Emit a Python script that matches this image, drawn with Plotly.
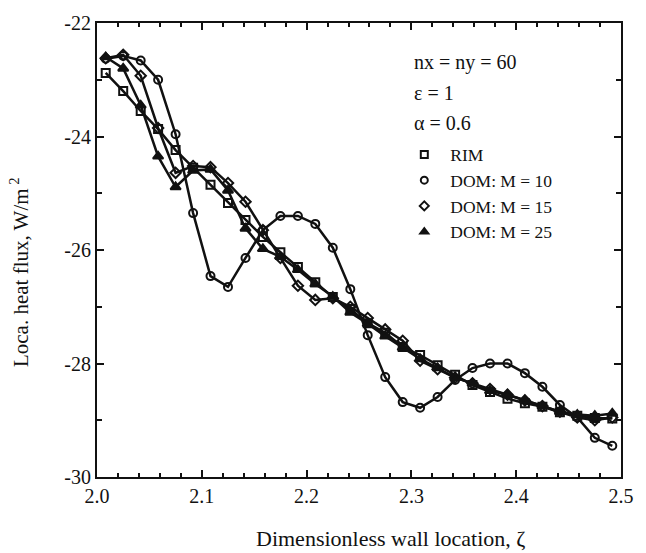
import plotly.graph_objects as go

# Dimensionless wall location (grid-cell centres, nx = 60)
ZETA = [2.0083, 2.0250, 2.0417, 2.0583, 2.0750, 2.0917, 2.1083, 2.1250, 2.1417, 2.1583,
        2.1750, 2.1917, 2.2083, 2.2250, 2.2417, 2.2583, 2.2750, 2.2917, 2.3083, 2.3250,
        2.3417, 2.3583, 2.3750, 2.3917, 2.4083, 2.4250, 2.4417, 2.4583, 2.4750, 2.4917]

RIM = [-22.88, -23.20, -23.55, -23.87, -24.24, -24.55, -24.85, -25.17, -25.47, -25.77,
       -26.04, -26.30, -26.57, -26.83, -27.04, -27.29, -27.46, -27.71, -27.85, -28.03,
       -28.20, -28.38, -28.50, -28.62, -28.70, -28.76, -28.86, -28.92, -28.96, -28.97]

DOM_M10 = [-22.63, -22.58, -22.66, -23.00, -23.96, -25.35, -26.46, -26.65, -26.14, -25.65,
           -25.40, -25.40, -25.54, -25.96, -26.69, -27.50, -28.24, -28.68, -28.78, -28.59,
           -28.29, -28.08, -28.00, -28.00, -28.17, -28.41, -28.73, -28.95, -29.31, -29.45]

DOM_M15 = [-22.62, -22.56, -22.93, -23.85, -24.64, -24.52, -24.54, -24.82, -25.15, -25.65,
           -26.14, -26.63, -26.88, -26.85, -27.00, -27.20, -27.40, -27.60, -27.95, -28.10,
           -28.25, -28.35, -28.45, -28.55, -28.65, -28.75, -28.85, -28.95, -29.00, -28.95]

DOM_M25 = [-22.60, -22.80, -23.45, -24.35, -24.89, -24.60, -24.58, -24.95, -25.62, -25.98,
           -26.12, -26.35, -26.60, -26.82, -27.10, -27.30, -27.52, -27.72, -27.92, -28.08,
           -28.25, -28.35, -28.48, -28.55, -28.65, -28.75, -28.85, -28.90, -28.92, -28.88]

SERIES = [
    ("RIM", RIM, "square-open"),
    ("DOM: M = 10", DOM_M10, "circle-open"),
    ("DOM: M = 15", DOM_M15, "diamond-open"),
    ("DOM: M = 25", DOM_M25, "triangle-up"),
]

X_TICKS = [2.0, 2.1, 2.2, 2.3, 2.4, 2.5]
X_LABELS = ["2.0", "2.1", "2.2", "2.3", "2.4", "2.5"]
Y_TICKS = [-30, -28, -26, -24, -22]
Y_LABELS = ["-30", "-28", "-26", "-24", "-22"]

FONT = "Liberation Serif"
BLACK = "#111111"

fig = go.Figure()
for name, vals, sym in SERIES:
    fig.add_trace(go.Scatter(
        x=ZETA, y=vals, mode="lines+markers", name=name, showlegend=False,
        line=dict(color=BLACK, width=2.5),
        marker=dict(symbol=sym, size=8 if sym != "triangle-up" else 9,
                    color=BLACK, line=dict(color=BLACK, width=2)),
    ))
# legend entries (markers only)
for name, vals, sym in SERIES:
    fig.add_trace(go.Scatter(
        x=[None], y=[None], mode="markers", name=name, showlegend=True,
        marker=dict(symbol=sym, size=7, color=BLACK, line=dict(color=BLACK, width=2)),
    ))

fig.update_layout(
    width=646, height=553,
    margin=dict(l=97, r=18, t=23, b=76),
    paper_bgcolor="white", plot_bgcolor="white",
    font=dict(family=FONT, color=BLACK, size=18),
    legend=dict(x=0.575, y=0.75, xanchor="left", yanchor="top",
                bgcolor="rgba(0,0,0,0)", font=dict(family=FONT, size=17.5),
                tracegroupgap=0, itemwidth=42),
    xaxis=dict(range=[2.0, 2.5], tickvals=X_TICKS, ticktext=X_LABELS,
               ticks="inside", ticklen=7, tickwidth=2, tickcolor=BLACK,
               minor=dict(dtick=0.02, tick0=2.0, ticks="inside", ticklen=4, tickwidth=1.5, tickcolor=BLACK),
               showline=True, linecolor=BLACK, linewidth=2, mirror="ticks",
               showgrid=False, zeroline=False, tickfont=dict(size=20)),
    yaxis=dict(range=[-30, -22], tickvals=Y_TICKS, ticktext=Y_LABELS,
               ticks="inside", ticklen=7, tickwidth=2, tickcolor=BLACK,
               minor=dict(dtick=1, tick0=-30, ticks="inside", ticklen=5, tickwidth=1.5, tickcolor=BLACK),
               showline=True, linecolor=BLACK, linewidth=2, mirror="ticks",
               showgrid=False, zeroline=False, tickfont=dict(size=20)),
)

ann = [
    ("nx = ny = 60", 62),
    ("\u03b5 = 1", 93),
    ("\u03b1 = 0.6", 123),
]
for text, ypix in ann:
    fig.add_annotation(text=text, xref="paper", yref="paper",
                       x=(416 - 97) / 531, y=(477 - ypix) / 454,
                       xanchor="left", yanchor="middle", showarrow=False,
                       font=dict(family=FONT, size=20, color=BLACK))

fig.add_annotation(text="Dimensionless wall location, \u03b6", xref="paper", yref="paper",
                   x=(394 - 97) / 531, y=(477 - 538) / 454, xanchor="center", yanchor="middle",
                   showarrow=False, font=dict(family=FONT, size=22, color=BLACK))

fig.add_annotation(text="Loca. heat flux, W/m<sup> 2</sup>", xref="paper", yref="paper",
                   x=(18 - 97) / 531, y=(477 - 272) / 454, xanchor="center", yanchor="middle",
                   textangle=-90, showarrow=False, font=dict(family=FONT, size=21, color=BLACK))

fig.write_html("out.html")
